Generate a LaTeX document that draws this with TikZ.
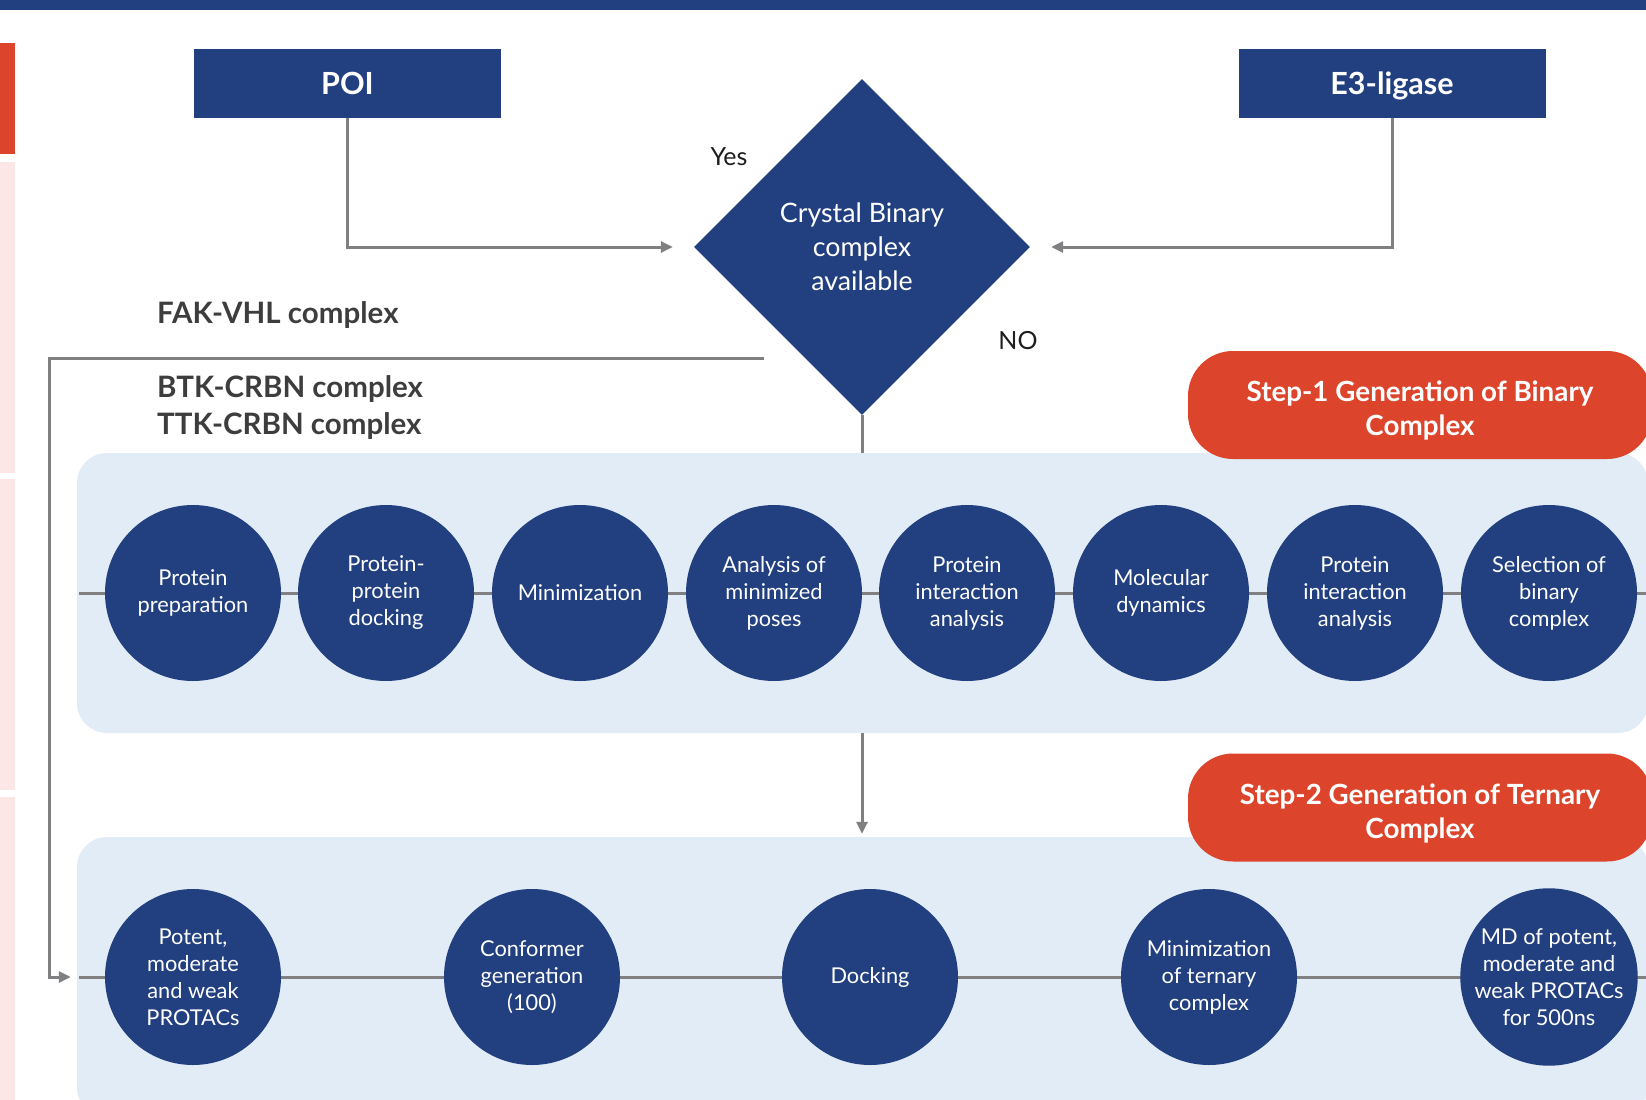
\documentclass[tikz,border=0pt]{standalone}
\usepackage{fontspec}
\setmainfont{Lato}
\usetikzlibrary{shapes.geometric,arrows.meta}

\definecolor{navy}{RGB}{34,63,127}
\definecolor{stepred}{RGB}{220,69,44}
\definecolor{panelblue}{RGB}{225,236,246}
\definecolor{sidepink}{RGB}{252,230,230}
\definecolor{linegray}{RGB}{128,128,130}
\definecolor{labelgray}{RGB}{61,61,61}
\definecolor{answerblack}{RGB}{30,30,30}

% extra room above the first line of a step title
\newcommand{\steplift}{\rule{0pt}{32pt}}

\tikzset{
	headbox/.style={fill=navy, text=white, font=\bfseries\fontsize{30.5}{36}\selectfont, minimum width=307, minimum height=69, text height=25, text depth=4, inner sep=0},
	decision/.style={diamond, fill=navy, text=white, align=center, font=\fontsize{26.8}{34}\selectfont, minimum width=336, minimum height=336, inner sep=0},
	stage/.style={circle, fill=navy, text=white, align=center, font=\fontsize{21.8}{27}\selectfont, minimum size=176, inner sep=0},
	panel/.style={fill=panelblue, rounded corners=30, minimum width=1571, minimum height=280, inner sep=0},
	stepbox/.style={fill=stepred, text=white, rounded corners=45, align=center, font=\bfseries\fontsize{27.8}{34}\selectfont, minimum width=464, minimum height=108, inner sep=0},
	complexlabel/.style={anchor=west, text=labelgray, font=\bfseries\fontsize{29.5}{34}\selectfont, inner sep=0},
	answer/.style={text=answerblack, font=\fontsize{25}{30}\selectfont, inner sep=0},
	flow/.style={draw=linegray, line width=3pt},
	tip/.style={-{Triangle[length=12pt, width=11pt]}}
}

\begin{document}
\begin{tikzpicture}[x=1pt, y=-1pt]
		\useasboundingbox (0,0) rectangle (1646,1100);
		\fill[navy] (0,0) rectangle (1646,10);
		\fill[stepred] (0,43) rectangle (15,154);
		\fill[sidepink] (0,162) rectangle (15,473);
		\fill[sidepink] (0,479) rectangle (15,790);
		\fill[sidepink] (0,797) rectangle (15,1100);
		
		\node[headbox] (poi) at (347.5,83.5) {POI};
		\node[headbox] (e3) at (1392,83.5) {E3-ligase};
		\node[decision] (dec) at (862,247) {Crystal Binary\\complex\\available};
		\node[answer] (yes) at (729,157) {Yes};
		\node[answer] (no) at (1018,341) {NO};
		\draw[flow, tip] (poi.south) |- ([xshift=-21]dec.west);
		\draw[flow, tip] (e3.south) |- ([xshift=21]dec.east);
		
		\node[complexlabel] (fak) at (157,315) {FAK-VHL complex};
		\node[complexlabel] (btk) at (157,389) {BTK-CRBN complex};
		\node[complexlabel] (ttk) at (157,426) {TTK-CRBN complex};
		
		\node[panel] (binpanel) at (862.5,593) {};
		\node[panel] (ternpanel) at (862.5,977) {};
		\draw[flow] (dec.south) -- (dec.south |- binpanel.north);
		\draw[flow, tip] (binpanel.south -| dec.south) -- ([yshift=3]ternpanel.north -| dec.south);
		\coordinate (nobranch) at (764,358);
		\draw[flow, tip] (nobranch) -- ++(-715,0) |- ([xshift=-6]ternpanel.west);
		
		\draw[flow] ([xshift=2]binpanel.west) -- ([xshift=10]binpanel.east);
		\node[stage] (prep) at (193,593) {Protein\\preparation};
		\node[stage] (ppdock) at (386,593) {Protein-\\protein\\docking};
		\node[stage] (minim) at (580,593) {Minimization};
		\node[stage] (poses) at (774,593) {Analysis of\\minimized\\poses};
		\node[stage] (pia) at (967,593) {Protein\\interaction\\analysis};
		\node[stage] (md) at (1161,593) {Molecular\\dynamics};
		\node[stage] (piatwo) at (1355,593) {Protein\\interaction\\analysis};
		\node[stage] (select) at (1549,593) {Selection of\\binary\\complex};
		
		\draw[flow] ([xshift=2]ternpanel.west) -- ([xshift=10]ternpanel.east);
		\node[stage] (protacs) at (193,977) {Potent,\\moderate\\and weak\\PROTACs};
		\node[stage] (conformer) at (532,977) {Conformer\\generation\\(100)};
		\node[stage] (docking) at (870,977) {Docking};
		\node[stage] (ternmin) at (1209,977) {Minimization\\of ternary\\complex};
		\node[stage] (mdrun) at (1549,977) {MD of potent,\\moderate and\\weak PROTACs\\for 500ns};
		
		\node[stepbox] (stepone) at (1420,405) {\steplift Step-1 Generation of Binary\\Complex};
		\node[stepbox] (steptwo) at (1420,807.5) {\steplift Step-2 Generation of Ternary\\Complex};
	\end{tikzpicture}
\end{document}
